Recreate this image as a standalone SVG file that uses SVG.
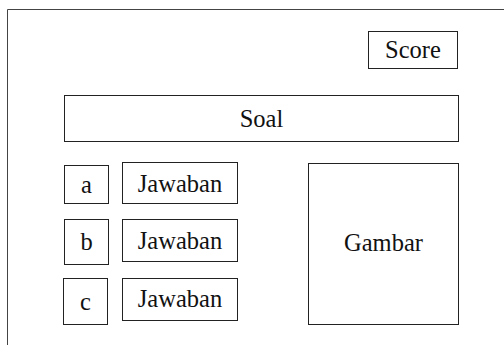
<svg xmlns="http://www.w3.org/2000/svg" width="504" height="345" viewBox="0 0 504 345">
  <style>
    .box { fill: #ffffff; stroke: #222222; stroke-width: 1; }
    .lbl { font-family: "Liberation Serif", "Times New Roman", serif; font-size: 24.5px; fill: #111111; text-anchor: middle; }
  </style>
  <rect x="0" y="0" width="504" height="345" fill="#ffffff"/>
  <!-- screen frame, running off the right and bottom edges -->
  <g id="frame">
    <path d="M7.5 345 V9.5 H504" fill="none" stroke="#444444" stroke-width="1"/>
  </g>
  <g id="score">
    <rect class="box" x="368.5" y="31.5" width="89" height="37"/>
    <text class="lbl" x="413" y="58">Score</text>
  </g>
  <g id="soal">
    <rect class="box" x="64.5" y="95.5" width="394" height="46"/>
    <text class="lbl" x="261.5" y="127">Soal</text>
  </g>
  <g id="opt-a">
    <rect class="box" x="64.5" y="165.5" width="44" height="38"/>
    <text class="lbl" x="86.5" y="193">a</text>
  </g>
  <g id="jawaban-a">
    <rect class="box" x="122.5" y="162.5" width="115" height="41"/>
    <text class="lbl" x="180" y="192">Jawaban</text>
  </g>
  <g id="opt-b">
    <rect class="box" x="64.5" y="219.5" width="44" height="45"/>
    <text class="lbl" x="86.5" y="250">b</text>
  </g>
  <g id="jawaban-b">
    <rect class="box" x="122.5" y="219.5" width="115" height="42"/>
    <text class="lbl" x="180" y="249">Jawaban</text>
  </g>
  <g id="opt-c">
    <rect class="box" x="63.5" y="278.5" width="44" height="46"/>
    <text class="lbl" x="85.5" y="310">c</text>
  </g>
  <g id="jawaban-c">
    <rect class="box" x="122.5" y="278.5" width="115" height="42"/>
    <text class="lbl" x="180" y="307">Jawaban</text>
  </g>
  <g id="gambar">
    <rect class="box" x="308.5" y="163.5" width="150" height="161"/>
    <text class="lbl" x="383.5" y="251">Gambar</text>
  </g>
  <g id="connectors"></g>
</svg>
